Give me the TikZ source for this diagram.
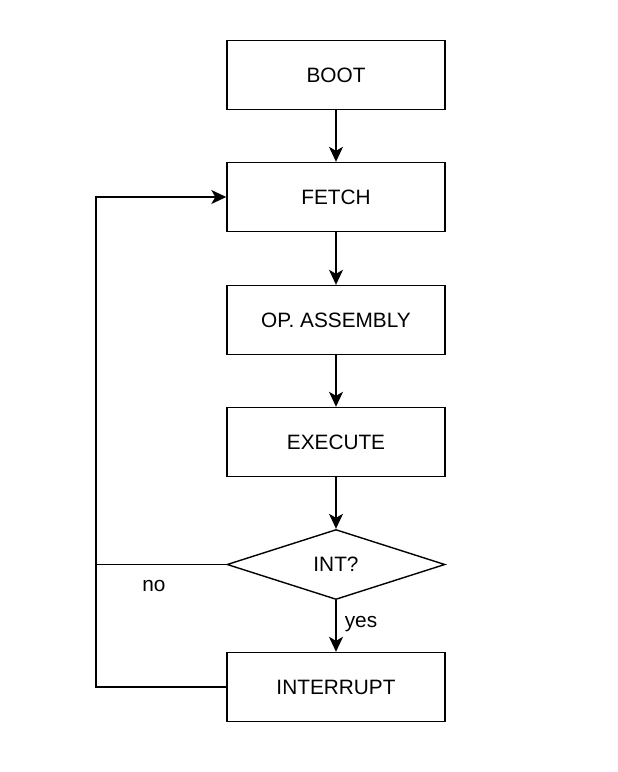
\documentclass[tikz,border=0pt]{standalone}
\usepackage{fontspec}
\setmainfont{Liberation Sans}
\usetikzlibrary{shapes.geometric,arrows.meta}
\begin{document}
\begin{tikzpicture}[x=1pt,y=-1pt,
  box/.style={draw,line width=1.4pt,minimum width=218pt,minimum height=69pt,inner sep=0pt,font=\fontsize{20.8}{23}\selectfont},
  dec/.style={draw,diamond,line width=1.4pt,minimum width=218pt,minimum height=70pt,inner sep=0pt,font=\fontsize{20.8}{23}\selectfont},
  arr/.style={line width=1.4pt,-{Stealth[length=15pt,width=14pt,inset=4pt]}},
  ln/.style={line width=1.4pt},
  lbl/.style={font=\fontsize{20.8}{23}\selectfont,inner sep=0pt}]
\useasboundingbox (0,0) rectangle (618,772);
\node[box] (boot) at (336,75) {BOOT};
\node[box] (fetch) at (336,197) {FETCH};
\node[box] (opa) at (336,320) {OP. ASSEMBLY};
\node[box] (exec) at (336,442) {EXECUTE};
\node[dec] (int) at (336,564.5) {INT?};
\node[box] (intr) at (336,687) {INTERRUPT};
\coordinate (lt) at (96,197);
\coordinate (lb) at (96,687);
\draw[arr] (boot) -- (fetch);
\draw[arr] (fetch) -- (opa);
\draw[arr] (opa) -- (exec);
\draw[arr] (exec) -- (int);
\draw[arr] (int) -- (intr);
\draw[arr] (intr.west) -- (lb) -- (lt) -- (fetch.west);
\draw[ln] (int.west) -- (int.west -| lt);
\node[lbl] (no) at (154,586) {no};
\node[lbl] (yes) at (361,624) {yes};
\end{tikzpicture}
\end{document}
